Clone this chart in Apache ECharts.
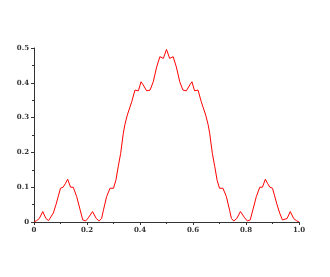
<!DOCTYPE html>
<html>
<head>
<meta charset="utf-8">
<script src="https://cdn.jsdelivr.net/npm/echarts@6/dist/echarts.min.js"></script>
<style>
html, body { margin: 0; padding: 0; background: #fff; }
#main { width: 330px; height: 277px; }
</style>
</head>
<body>
<div id="main"></div>
<script>
// points
var xs = [0, 0.01, 0.02, 0.033, 0.045, 0.055, 0.0625, 0.073, 0.083, 0.092, 0.1, 0.11, 0.118, 0.127, 0.138, 0.148, 0.161, 0.174, 0.184,
	0.195, 0.205, 0.221, 0.235, 0.246, 0.255, 0.262, 0.274, 0.287, 0.3, 0.309, 0.318, 0.327, 0.337, 0.343, 0.352, 0.362, 0.369,
	0.381, 0.394, 0.404, 0.412, 0.425, 0.438, 0.45, 0.463, 0.475, 0.488, 0.5,
	0.512, 0.525, 0.537, 0.55, 0.562, 0.575, 0.588, 0.596, 0.606, 0.619, 0.631, 0.638, 0.648, 0.657, 0.663, 0.673, 0.682, 0.691,
	0.7, 0.713, 0.726, 0.738, 0.745, 0.754, 0.765, 0.779, 0.795, 0.805, 0.816, 0.826, 0.839, 0.852, 0.862, 0.873, 0.882, 0.89,
	0.9, 0.908, 0.917, 0.927, 0.9375, 0.945, 0.955, 0.967, 0.98, 0.99, 1.0];
var ys = [0, 0.004, 0.01, 0.03, 0.01, 0.004, 0.006, 0.026, 0.05, 0.075, 0.097, 0.1, 0.11, 0.123, 0.1, 0.1, 0.073, 0.035, 0.006,
	0.003, 0.012, 0.03, 0.01, 0.003, 0.01, 0.034, 0.073, 0.097, 0.097, 0.12, 0.16, 0.197, 0.255, 0.28, 0.307, 0.33, 0.346,
	0.379, 0.377, 0.403, 0.394, 0.377, 0.379, 0.403, 0.446, 0.475, 0.47, 0.496,
	0.47, 0.475, 0.446, 0.403, 0.379, 0.377, 0.394, 0.403, 0.377, 0.379, 0.346, 0.33, 0.307, 0.28, 0.255, 0.197, 0.16, 0.12,
	0.097, 0.097, 0.073, 0.034, 0.01, 0.003, 0.01, 0.03, 0.012, 0.003, 0.006, 0.035, 0.073, 0.1, 0.1, 0.123, 0.11, 0.1,
	0.097, 0.075, 0.05, 0.026, 0.006, 0.004, 0.01, 0.03, 0.01, 0.004, 0];

var myChart = echarts.init(document.getElementById('main'));
var pts = [];
for (var i = 0; i < xs.length; i++) {
	pts.push([xs[i], ys[i]]);
}
var lbl = {
	fontFamily : 'DejaVu Serif',
	fontSize : 7,
	fontWeight : 'bold',
	color : '#333',
	formatter : function(v) { return v === 0 ? '0' : v.toFixed(1); }
};
var option = {
	animation : false,
	grid : { left : 34, right : 31, top : 48, bottom : 55 },
	xAxis : {
		type : 'value', min : 0, max : 1, interval : 0.2,
		axisLine : { lineStyle : { color : '#333', width : 1 } },
		axisTick : { length : 3, lineStyle : { color : '#333' } },
		minorTick : { show : true, splitNumber : 2, length : 2, lineStyle : { color : '#333' } },
		splitLine : { show : false },
		axisLabel : Object.assign({ margin : 5 }, lbl)
	},
	yAxis : {
		type : 'value', min : 0, max : 0.5, interval : 0.1,
		axisLine : { show : true, lineStyle : { color : '#333', width : 1 } },
		axisTick : { show : true, length : 3, lineStyle : { color : '#333' } },
		minorTick : { show : true, splitNumber : 2, length : 2, lineStyle : { color : '#333' } },
		splitLine : { show : false },
		axisLabel : Object.assign({ margin : 5 }, lbl)
	},
	series : [ {
		type : 'line',
		data : pts,
		showSymbol : false,
		lineStyle : { color : '#ff0000', width : 1 }
	} ]
};
myChart.setOption(option);
</script>
</body>
</html>
